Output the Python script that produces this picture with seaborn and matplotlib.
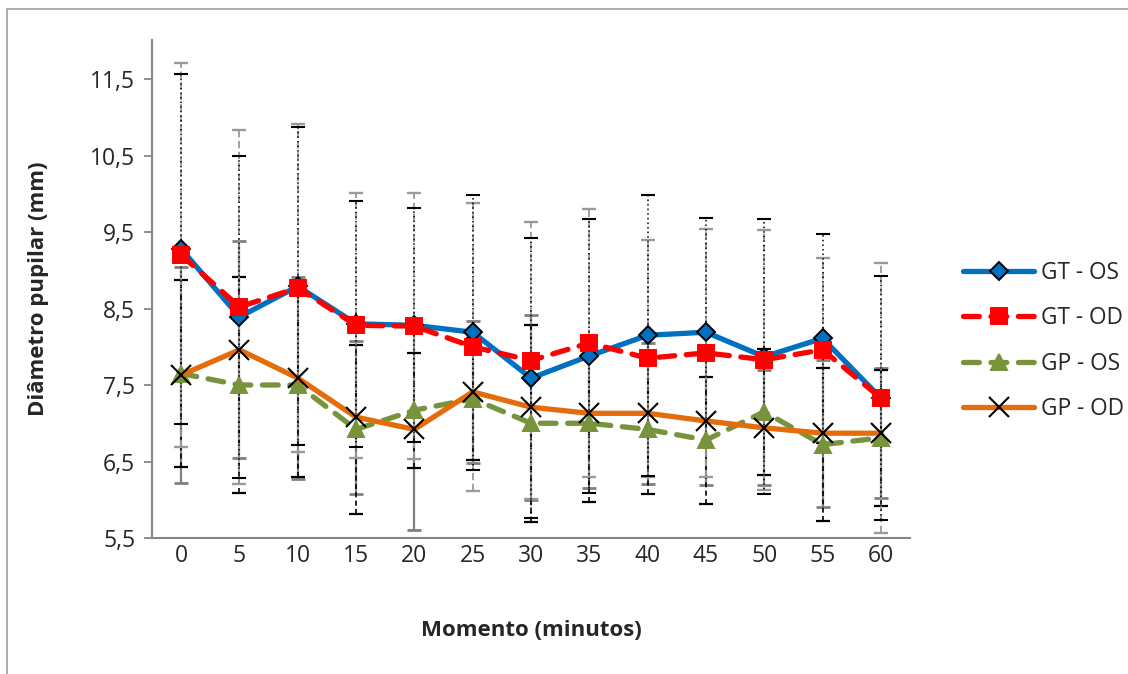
import numpy as np
import pandas as pd
import matplotlib
matplotlib.use("Agg")
import matplotlib.pyplot as plt
import seaborn as sns
from matplotlib.lines import Line2D

# === Data ===
momentos = [0, 5, 10, 15, 20, 25, 30, 35, 40, 45, 50, 55, 60]

gt_os = [9.28, 8.39, 8.79, 8.30, 8.28, 8.19, 7.59, 7.88, 8.15, 8.19, 7.87, 8.11, 7.33]
gt_od = [9.20, 8.52, 8.77, 8.28, 8.27, 8.00, 7.82, 8.05, 7.85, 7.92, 7.83, 7.96, 7.33]
gp_os = [7.65, 7.50, 7.50, 6.92, 7.17, 7.32, 7.00, 7.00, 6.92, 6.78, 7.15, 6.72, 6.81]
gp_od = [7.63, 7.96, 7.59, 7.08, 6.92, 7.41, 7.21, 7.13, 7.13, 7.03, 6.94, 6.87, 6.87]

gt_os_sd = [2.29, 2.10, 2.08, 1.61, 1.53, 1.80, 1.83, 1.79, 1.84, 1.49, 1.80, 1.37, 1.60]
gt_od_sd = [2.51, 2.31, 2.14, 1.73, 1.74, 1.88, 1.81, 1.75, 1.55, 1.62, 1.70, 1.20, 1.77]
gp_os_sd = [1.22, 1.41, 1.20, 1.10, 0.75, 0.80, 1.29, 1.03, 0.84, 0.83, 0.82, 1.00, 0.89]
gp_od_sd = [1.41, 1.42, 1.32, 1.00, 1.31, 0.93, 1.21, 0.98, 0.92, 0.84, 0.75, 0.96, 0.85]

labels = ["GT - OS", "GT - OD", "GP - OS", "GP - OD"]
y_ticks = [5.5, 6.5, 7.5, 8.5, 9.5, 10.5, 11.5]
y_ticklabels = ["5,5", "6,5", "7,5", "8,5", "9,5", "10,5", "11,5"]

# === Style ===
sns.set_style("white")
plt.rcParams["font.family"] = ["Open Sans", "DejaVu Sans"]
FS_TICK = 16.5
FS_TITLE = 16
FS_LEG = 16.3

pos = np.arange(len(momentos))
df = pd.DataFrame({"pos": pos, "GT - OS": gt_os, "GT - OD": gt_od, "GP - OS": gp_os, "GP - OD": gp_od})

fig = plt.figure(figsize=(11.28, 6.74), dpi=100)
ax = fig.add_axes([152 / 1128, 136 / 674, 758 / 1128, 498 / 674])

# === Error bars (drawn first, under the lines) ===
err_styles = [
    (gp_od_sd, gp_od, dict(color="#808080", linestyle="-", lw=1.6)),
    (gp_os_sd, gp_os, dict(color="black", linestyle=(0, (3, 2)), lw=1.2)),
    (gt_od_sd, gt_od, dict(color="#9a9a9a", linestyle=(0, (4, 2)), lw=1.3)),
    (gt_os_sd, gt_os, dict(color="black", linestyle=(0, (1, 2)), lw=1.1)),
]
for sd, vals, st in err_styles:
    eb = ax.errorbar(pos, vals, yerr=sd, fmt="none", ecolor=st["color"],
                     elinewidth=st["lw"], capsize=5, capthick=st["lw"] + 0.4, zorder=2)
    eb[2][0].set_linestyle(st["linestyle"])

# === Lines ===
series = [
    ("GT - OS", "#0070C0", "-", "D", 9, "black"),
    ("GT - OD", "#FF0000", (0, (3, 2.2)), "s", 12, "#FF0000"),
    ("GP - OS", "#77933C", (0, (3, 2.2)), "^", 11, "#77933C"),
    ("GP - OD", "#E46C0A", "-", "x", 14, "black"),
]
for i, (name, col, ls, mk, ms, mec) in enumerate(series):
    sns.lineplot(data=df, x="pos", y=name, ax=ax, color=col, lw=3.8, marker=mk,
                 markersize=ms, markeredgecolor=mec, markeredgewidth=1.4 if mk != "x" else 1.5,
                 zorder=3 + i)
    ln = ax.lines[-1]
    ln.set_linestyle(ls)
    ln.set_dash_capstyle("round")
    ln.set_solid_capstyle("round")

# === Axes ===
ax.set_xlim(-0.5, 12.5)
ax.set_ylim(5.5, 12.01)
ax.set_yticks(y_ticks)
ax.set_yticklabels(y_ticklabels, fontsize=FS_TICK)
ax.set_xticks(pos)
ax.set_xticklabels([str(m) for m in momentos], fontsize=FS_TICK)
ax.set_xticks(np.arange(-0.5, 13, 1), minor=True)
ax.tick_params(axis="x", which="major", length=0, pad=4)
ax.tick_params(axis="x", which="minor", length=6, color="#868686", width=1.3, direction="out")
ax.tick_params(axis="y", length=6, color="#868686", width=1.3, direction="out", pad=6, left=True)
for s in ["top", "right"]:
    ax.spines[s].set_visible(False)
for s in ["left", "bottom"]:
    ax.spines[s].set_color("#868686")
    ax.spines[s].set_linewidth(1.5)

ax.set_xlabel("Momento (minutos)", fontsize=FS_TITLE, fontweight="bold", labelpad=38)
ax.set_ylabel("Diâmetro pupilar (mm)", fontsize=FS_TITLE, fontweight="bold", labelpad=30)

# === Legend ===
handles = ax.lines[-4:]
leg = fig.legend(handles, labels, loc="center left", bbox_to_anchor=(954 / 1128, 333 / 674),
                 frameon=False, fontsize=FS_LEG, handlelength=3.15, handletextpad=0.3,
                 labelspacing=0.95, borderaxespad=0)

# chart area border (top and left visible)
fig.add_artist(Line2D([7 / 1128, 1], [1 - 9 / 674, 1 - 9 / 674], color="#a0a0a0", lw=1.2))
fig.add_artist(Line2D([7 / 1128, 7 / 1128], [0, 1 - 9 / 674], color="#a0a0a0", lw=1.2))

fig.savefig("out.png", dpi=100)
